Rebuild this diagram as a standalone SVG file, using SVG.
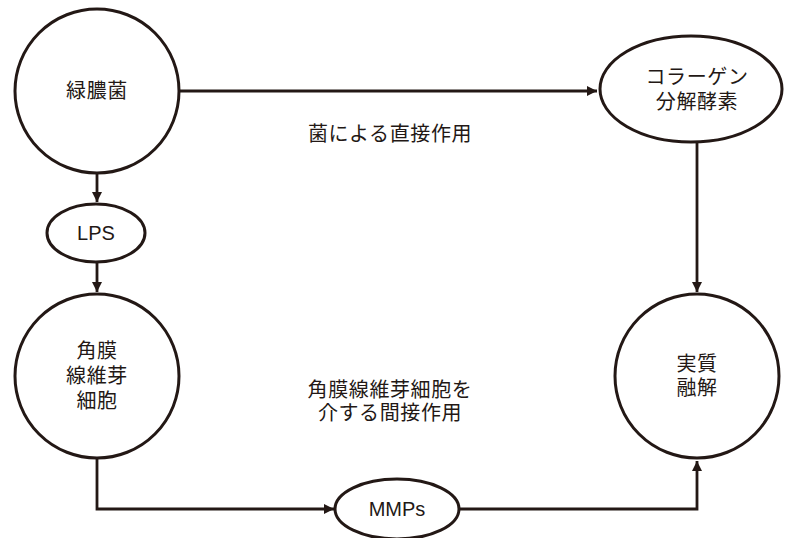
<svg xmlns="http://www.w3.org/2000/svg" width="786" height="538" viewBox="0 0 786 538">
<defs>
<marker id="ah" viewBox="0 0 10 10" refX="10" refY="5" markerWidth="10" markerHeight="10" markerUnits="userSpaceOnUse" orient="auto">
<path d="M0,0 L10,5 L0,10 Z" fill="#231815"/>
</marker>
<style>
.n{fill:#fff;stroke:#231815;stroke-width:3}
.c{fill:none;stroke:#231815;stroke-width:2.8}
.t{font-family:"Noto Sans CJK JP","Noto Sans",sans-serif;font-size:20px;letter-spacing:0.6px;fill:#231815;text-anchor:middle}
.l{font-family:"Liberation Sans",Arial,sans-serif;font-size:20px;fill:#231815;text-anchor:middle}
</style>
</defs>
<rect width="786" height="538" fill="#fff"/>
<g id="connectors">
<path class="c" d="M180,91 L597,91" marker-end="url(#ah)"/>
<path class="c" d="M97,173 L97,202" marker-end="url(#ah)"/>
<path class="c" d="M97,263 L97,292" marker-end="url(#ah)"/>
<path class="c" d="M697,142 L697,292" marker-end="url(#ah)"/>
<path class="c" d="M97,458 L97,509 L334,509" marker-end="url(#ah)"/>
<path class="c" d="M460,509 L697,509 L697,461" marker-end="url(#ah)"/>
</g>
<g id="n1">
<circle class="n" cx="97" cy="91" r="82"/>
<text class="t" x="97" y="98">緑膿菌</text>
</g>
<g id="n2">
<ellipse class="n" cx="691" cy="89" rx="91" ry="53"/>
<text class="t" x="697" y="84">コラーゲン<tspan x="697" dy="25">分解酵素</tspan></text>
</g>
<g id="n3">
<ellipse class="n" cx="96" cy="233" rx="49" ry="29"/>
<text class="l" x="96" y="240">LPS</text>
</g>
<g id="n4">
<circle class="n" cx="97" cy="376" r="82"/>
<text class="t" x="97" y="358">角膜<tspan x="97" dy="25">線維芽</tspan><tspan x="97" dy="25">細胞</tspan></text>
</g>
<g id="n5">
<circle class="n" cx="697" cy="376" r="82"/>
<text class="t" x="697" y="371">実質<tspan x="697" dy="24">融解</tspan></text>
</g>
<g id="n6">
<ellipse class="n" cx="397" cy="509" rx="62" ry="30"/>
<text class="l" x="397" y="516">MMPs</text>
</g>
<g id="labels">
<text class="t" x="390" y="141">菌による直接作用</text>
<text class="t" x="390" y="397">角膜線維芽細胞を<tspan x="390" dy="23">介する間接作用</tspan></text>
</g>
</svg>
